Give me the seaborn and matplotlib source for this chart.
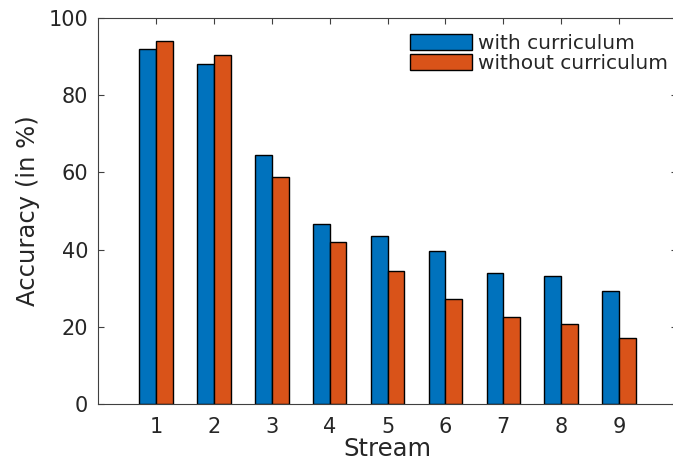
import numpy as np
import pandas as pd
import seaborn as sns
import matplotlib.pyplot as plt

# Data
streams = [1, 2, 3, 4, 5, 6, 7, 8, 9]
with_curriculum = [92.0, 88.2, 64.6, 46.6, 43.5, 39.7, 33.9, 33.1, 29.2]
without_curriculum = [94.1, 90.5, 58.9, 42.0, 34.4, 27.2, 22.5, 20.8, 17.1]
series_names = ["with curriculum", "without curriculum"]
colors = ["#0072BD", "#D95319"]

df = pd.DataFrame({
    "Stream": streams * 2,
    "Accuracy": with_curriculum + without_curriculum,
    "Method": [series_names[0]] * len(streams) + [series_names[1]] * len(streams),
})

sns.set_style("white")
plt.rcParams["font.family"] = ["DejaVu Sans"]
text_color = "#262626"

fig = plt.figure(figsize=(6.73, 4.61), dpi=100)
ax = fig.add_axes([0.1456, 0.1236, 0.8605, 0.8374])

sns.barplot(data=df, x="Stream", y="Accuracy", hue="Method", hue_order=series_names,
            palette=colors, native_scale=True, width=0.58, saturation=1,
            edgecolor="black", linewidth=1, ax=ax)

ax.set_xlim(0, 10)
ax.set_ylim(0, 100)
ax.set_xticks(streams)
ax.set_yticks([0, 20, 40, 60, 80, 100])
ax.tick_params(direction="in", length=4, width=0.8, colors="#404040",
               labelcolor=text_color, labelsize=15, top=True, right=True,
               bottom=True, left=True)
ax.tick_params(axis="x", pad=9)
ax.tick_params(axis="y", pad=7)
for s in ax.spines.values():
    s.set_color("#404040")
    s.set_linewidth(0.8)
# the right edge of the box falls just outside the picture
ax.spines["right"].set_visible(False)

ax.set_xlabel("Stream", fontsize=17.5, color=text_color, labelpad=0)
ax.set_ylabel("Accuracy (in %)", fontsize=17.5, color=text_color, labelpad=6)

leg = ax.legend(loc="upper left", bbox_to_anchor=(410 / 673, 1 - 34 / 461),
                bbox_transform=fig.transFigure, frameon=False, fontsize=14.5,
                handlelength=3.1, handleheight=0.8, handletextpad=0.3,
                labelspacing=0.05, borderaxespad=0, borderpad=0)
for t in leg.get_texts():
    t.set_color(text_color)

fig.savefig("out.png", dpi=100)
